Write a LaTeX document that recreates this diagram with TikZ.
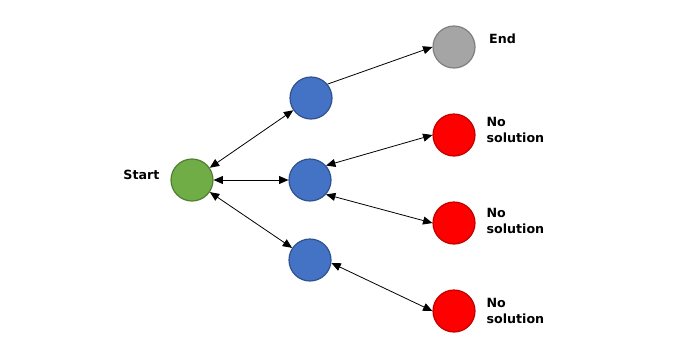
\documentclass[tikz,border=0pt]{standalone}
\usepackage{fontspec}
\setmainfont{DejaVu Sans}
\usepackage{xcolor}
\usetikzlibrary{arrows.meta, positioning}

\definecolor{startgreen}{HTML}{70AD47}
\definecolor{startedge}{HTML}{507E32}
\definecolor{midblue}{HTML}{4472C4}
\definecolor{midedge}{HTML}{2F528F}
\definecolor{endgray}{HTML}{A5A5A5}
\definecolor{endedge}{HTML}{7F7F7F}
\definecolor{failred}{HTML}{FF0000}
\definecolor{failedge}{HTML}{C00000}

\begin{document}
\begin{tikzpicture}[
    x=0.75pt, y=-0.75pt,
    state/.style = {circle, minimum size=31.5pt, inner sep=0pt, line width=0.9pt},
    label/.style = {font=\fontsize{9.5}{12}\selectfont\bfseries, align=left, inner sep=0pt},
    arrow/.style = {line width=0.6pt, {Triangle[length=7pt,width=6pt]}-{Triangle[length=7pt,width=6pt]}},
    oneway/.style = {line width=0.6pt, -{Triangle[length=7pt,width=6pt]}}
]
\useasboundingbox (0,0) rectangle (700,351);

% States
\node (start) [state, fill=startgreen, draw=startedge] at (192,180) {};
\node (upper) [state, fill=midblue, draw=midedge] at (311,98) {};
\node (middle) [state, fill=midblue, draw=midedge] at (310,180) {};
\node (lower) [state, fill=midblue, draw=midedge] at (310,260) {};
\node (goal) [state, fill=endgray, draw=endedge] at (454,47) {};
\node (failA) [state, fill=failred, draw=failedge] at (454,135) {};
\node (failB) [state, fill=failred, draw=failedge] at (454,223) {};
\node (failC) [state, fill=failred, draw=failedge] at (454,311) {};

% Labels
\node (startlbl) [label, left=8pt of start, yshift=4pt] {Start};
\node (goallbl) [label, right=10pt of goal, yshift=6pt] {End};
\node (failAlbl) [label, right=8pt of failA, yshift=4pt] {No\\solution};
\node (failBlbl) [label, right=8pt of failB, yshift=1.5pt] {No\\solution};
\node (failClbl) [label, right=8pt of failC] {No\\solution};

% Arrows
\draw [arrow] (start) -- (upper);
\draw [arrow] (start) -- (middle);
\draw [arrow] (start) -- (lower);
\draw [oneway] (upper.40) -- (goal.west);
\draw [arrow] (middle.42) -- (failA.west);
\draw [arrow] (middle.-42) -- (failB.west);
\draw [arrow] (lower.-8) -- (failC.west);

\end{tikzpicture}
\end{document}
